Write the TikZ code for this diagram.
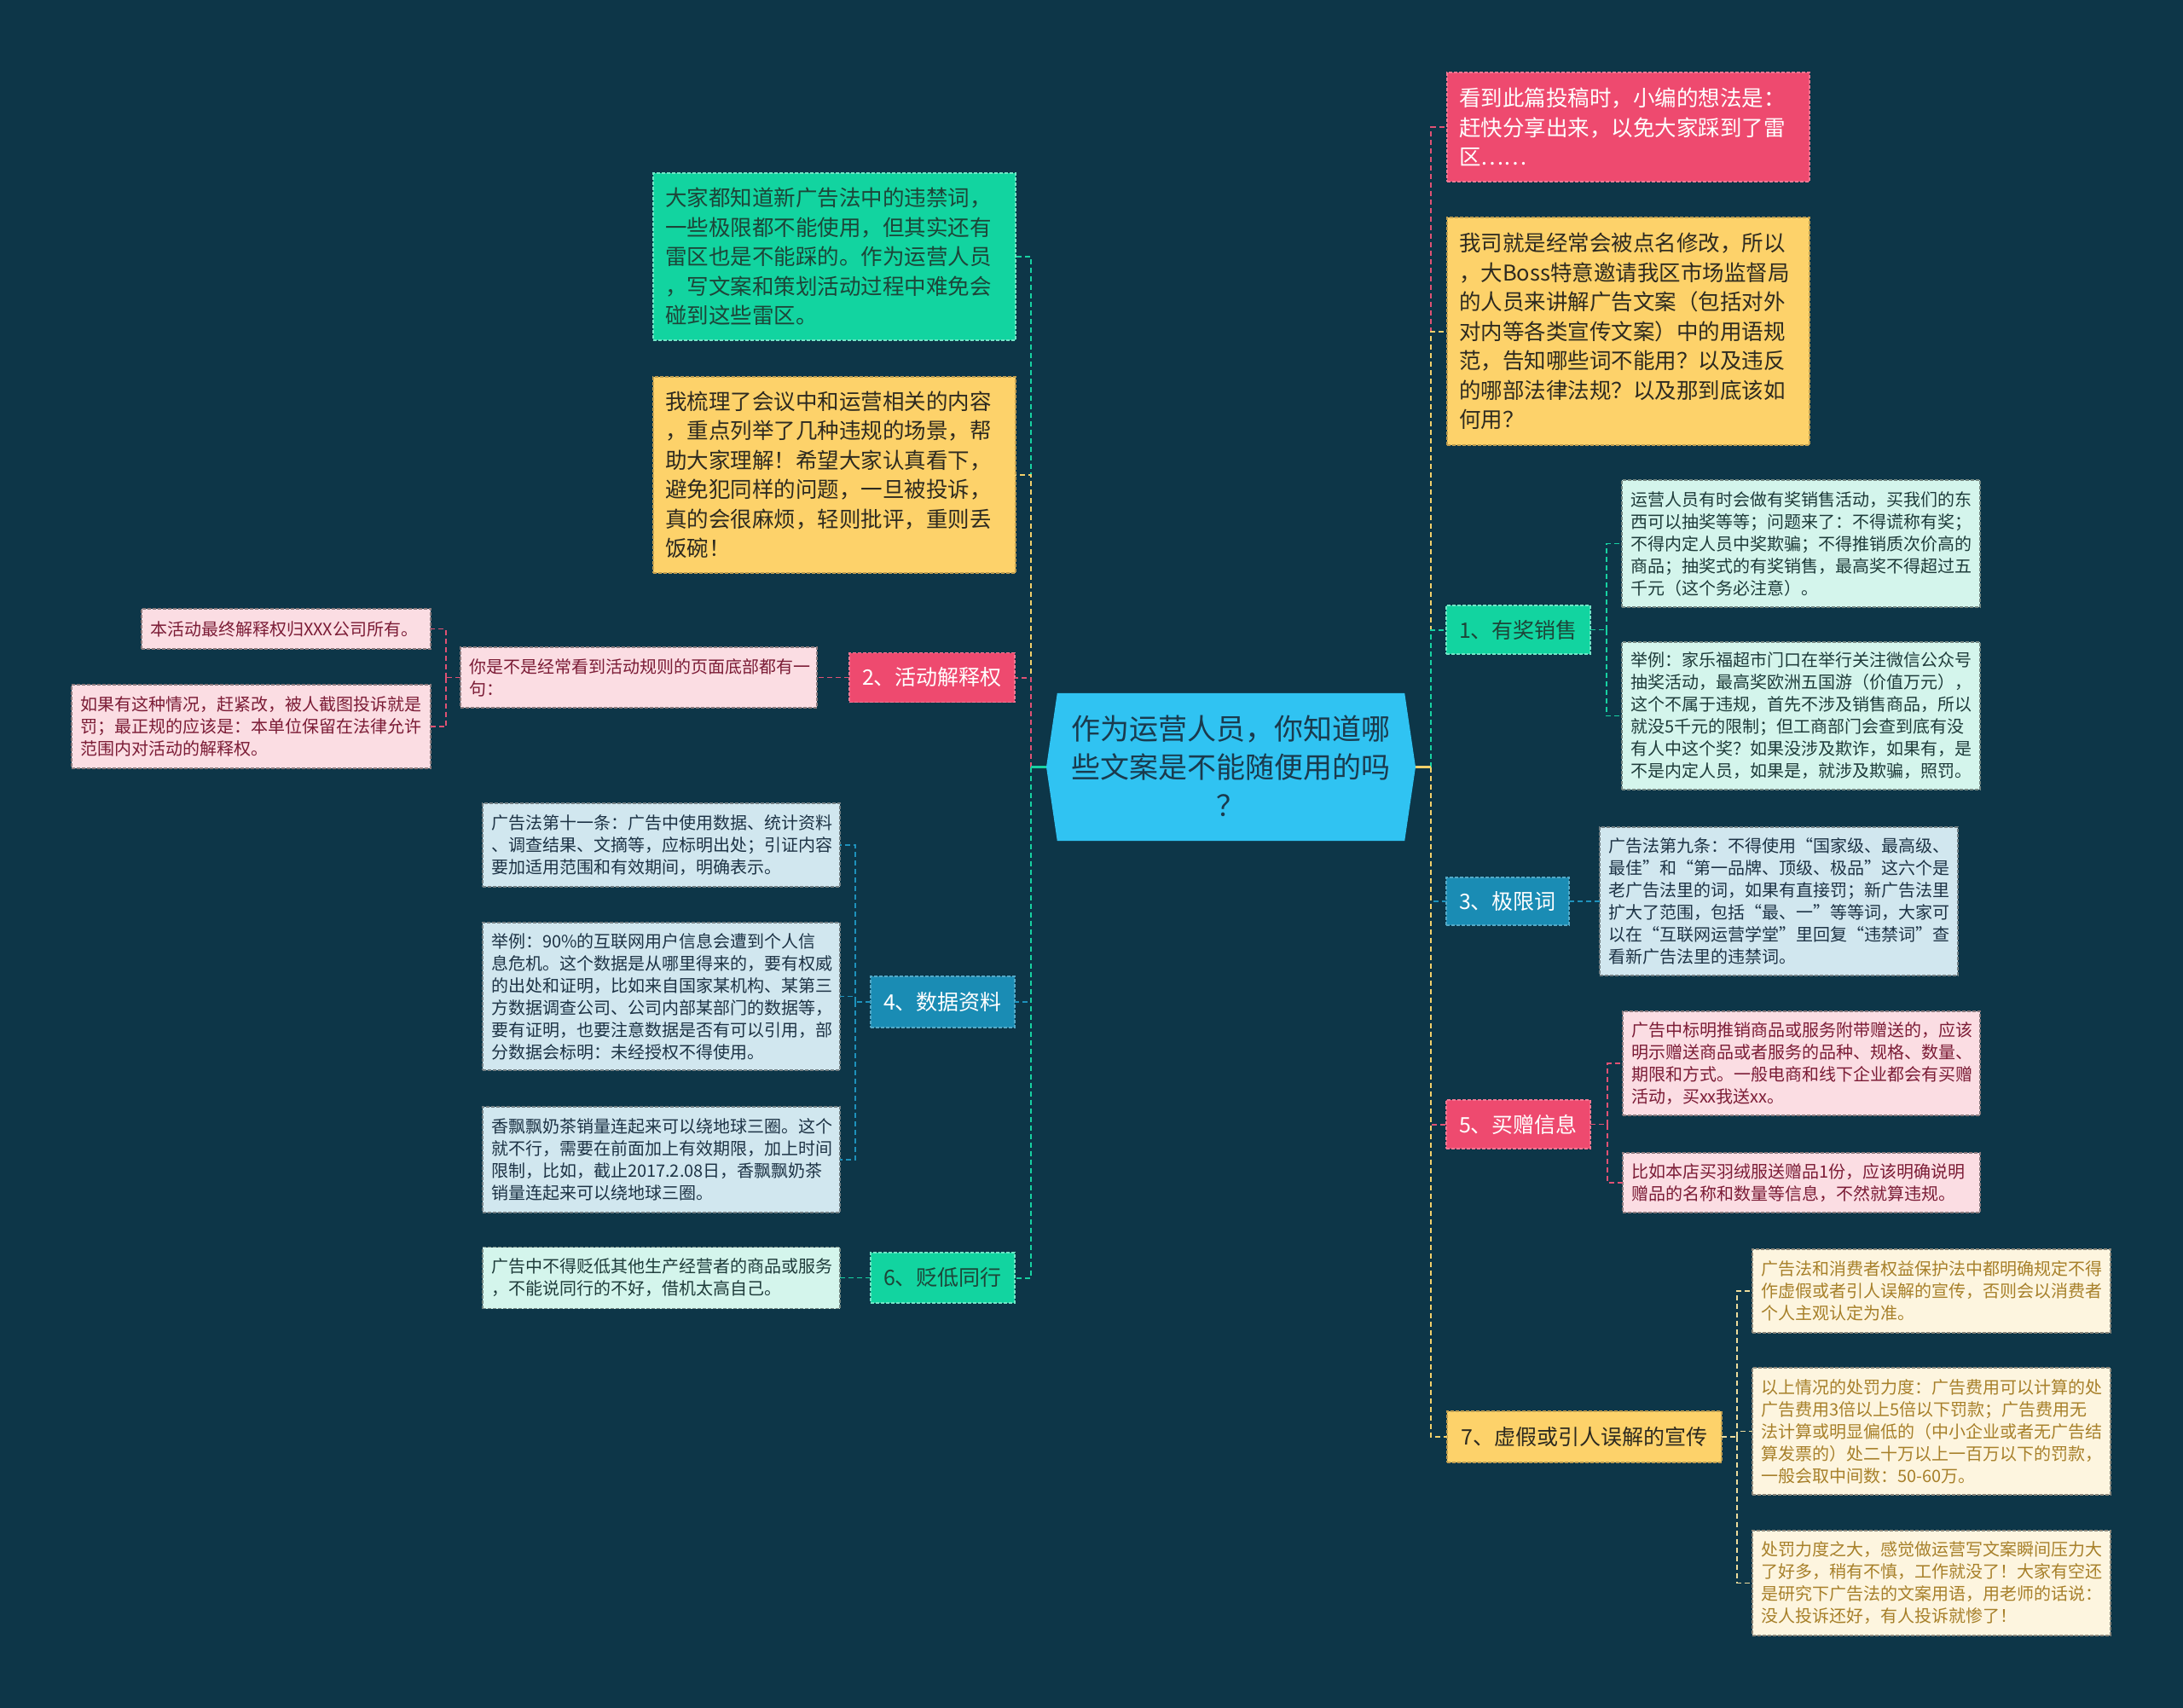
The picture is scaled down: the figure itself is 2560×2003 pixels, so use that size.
\documentclass[tikz,border=0pt]{standalone}
\usepackage{fontspec}
\setmainfont{Noto Sans CJK SC}
\usetikzlibrary{calc}
\definecolor{bg}{HTML}{0D3648}
\definecolor{cfill}{HTML}{30C3F2}
\definecolor{ctext}{HTML}{1A3A4D}
\definecolor{pF}{HTML}{EE4A6F}
\definecolor{yF}{HTML}{FDD26A}
\definecolor{gF}{HTML}{12D4A0}
\definecolor{bF}{HTML}{1A8CB4}
\definecolor{gL}{HTML}{D4F5EC}
\definecolor{bL}{HTML}{D1E7EF}
\definecolor{pL}{HTML}{FBDDE3}
\definecolor{yL}{HTML}{FDF5DF}
\definecolor{pC}{HTML}{E05274}
\definecolor{yC}{HTML}{F2D06B}
\definecolor{gC}{HTML}{17D2A2}
\definecolor{bC}{HTML}{1E92BC}
\definecolor{ycC}{HTML}{EDDC9C}
\definecolor{darkY}{HTML}{2D2A20}
\definecolor{darkG}{HTML}{1D4538}
\definecolor{txG}{HTML}{1E3B3A}
\definecolor{txB}{HTML}{1D3345}
\definecolor{txP}{HTML}{7B1C36}
\definecolor{txY}{HTML}{A7802A}
\tikzset{
  bx/.style={rectangle, dash pattern=on 4pt off 2pt, line width=1.2pt, inner xsep=10pt, inner ysep=0pt, align=left, outer sep=0pt},
  bigbx/.style={bx, inner xsep=14pt, text width=397pt, font=\fontsize{25.5}{34.5}\selectfont},
  smbx/.style={bx, font=\fontsize{20}{26}\selectfont},
  lbl/.style={rectangle, dash pattern=on 4pt off 2pt, line width=1.2pt, inner sep=0pt, align=center, outer sep=0pt, font=\fontsize{25}{30}\selectfont},
  pbig/.style={fill=pF, draw=pF!75!white, text=white},
  ybig/.style={fill=yF, draw=yF!75!black, text=darkY},
  gbig/.style={fill=gF, draw=gF!60!white, text=darkG},
  bbig/.style={fill=bF, draw=bF!75!white, text=white},
  gsm/.style={fill=gL, draw=gL!55!black, text=txG},
  bsm/.style={fill=bL, draw=bL!55!black, text=txB},
  psm/.style={fill=pL, draw=pL!55!black, text=txP},
  ysm/.style={fill=yL, draw=yL!55!black, text=txY},
  ln/.style={dash pattern=on 6pt off 4pt, line width=2pt},
  lnb/.style={dash pattern=on 6pt off 4pt, line width=1.6pt},
}
\begin{document}
\begin{tikzpicture}[x=1pt,y=-1pt]
\useasboundingbox (0,0) rectangle (2560,2003);
\fill[bg] (0,0) rectangle (2560,2003);

% ---------- centre ----------
\node[minimum width=407pt, minimum height=173pt, inner sep=0pt] (c) at (1443.5,899.5) {};
\coordinate (cl) at (1227,899.5);
\coordinate (cr) at (1660,899.5);
\fill[cfill] (c.north west) -- (c.north east) -- (cr) -- (c.south east) -- (c.south west) -- (cl) -- cycle;
\node[font=\fontsize{34}{45}\selectfont, text=ctext, align=center, inner sep=0pt] (ct) at (1443.5,898) {作为运营人员，你知道哪\\些文案是不能随便用的吗\\？};

% ---------- right side ----------
\node[bigbx, pbig, minimum height=128pt] (rp) at (1909.5,149) {看到此篇投稿时，小编的想法是：\\赶快分享出来，以免大家踩到了雷\\区……};
\node[bigbx, ybig, minimum height=267pt] (ry) at (1909.5,388.5) {我司就是经常会被点名修改，所以\\，大Boss特意邀请我区市场监督局\\的人员来讲解广告文案（包括对外\\对内等各类宣传文案）中的用语规\\范，告知哪些词不能用？以及违反\\的哪部法律法规？以及那到底该如\\何用？};

\node[lbl, fill=gF, draw=gF!60!white, text=darkG, minimum width=169pt, minimum height=57pt] (b1) at (1780.5,738.5) {1、有奖销售};
\node[smbx, gsm, text width=400pt, minimum height=149pt] (c1a) at (2112,637.5) {运营人员有时会做有奖销售活动，买我们的东\\西可以抽奖等等；问题来了：不得谎称有奖；\\不得内定人员中奖欺骗；不得推销质次价高的\\商品；抽奖式的有奖销售，最高奖不得超过五\\千元（这个务必注意）。};
\node[smbx, gsm, text width=400pt, minimum height=173pt] (c1b) at (2112,839.5) {举例：家乐福超市门口在举行关注微信公众号\\抽奖活动，最高奖欧洲五国游（价值万元），\\这个不属于违规，首先不涉及销售商品，所以\\就没5千元的限制；但工商部门会查到底有没\\有人中这个奖？如果没涉及欺诈，如果有，是\\不是内定人员，如果是，就涉及欺骗，照罚。};

\node[lbl, fill=bF, draw=bF!75!white, text=white, minimum width=144pt, minimum height=56pt] (b3) at (1768,1057) {3、极限词};
\node[smbx, bsm, text width=400pt, minimum height=174pt] (c3) at (2086,1057) {广告法第九条：不得使用“国家级、最高级、\\最佳”和“第一品牌、顶级、极品”这六个是\\老广告法里的词，如果有直接罚；新广告法里\\扩大了范围，包括“最、一”等等词，大家可\\以在“互联网运营学堂”里回复“违禁词”查\\看新广告法里的违禁词。};

\node[lbl, fill=pF, draw=pF!75!white, text=white, minimum width=169pt, minimum height=57pt] (b5) at (1780.5,1318.5) {5、买赠信息};
\node[smbx, psm, text width=399pt, minimum height=122pt] (c5a) at (2112.5,1247) {广告中标明推销商品或服务附带赠送的，应该\\明示赠送商品或者服务的品种、规格、数量、\\期限和方式。一般电商和线下企业都会有买赠\\活动，买xx我送xx。};
\node[smbx, psm, text width=399pt, minimum height=70pt] (c5b) at (2112.5,1387) {比如本店买羽绒服送赠品1份，应该明确说明\\赠品的名称和数量等信息，不然就算违规。};

\node[lbl, fill=yF, draw=yF!75!black, text=darkY, minimum width=322pt, minimum height=60pt] (b7) at (1858,1685) {7、虚假或引人误解的宣传};
\node[smbx, ysm, text width=400pt, minimum height=98pt] (c7a) at (2265,1514) {广告法和消费者权益保护法中都明确规定不得\\作虚假或者引人误解的宣传，否则会以消费者\\个人主观认定为准。};
\node[smbx, ysm, text width=400pt, minimum height=149pt] (c7b) at (2265,1678.5) {以上情况的处罚力度：广告费用可以计算的处\\广告费用3倍以上5倍以下罚款；广告费用无\\法计算或明显偏低的（中小企业或者无广告结\\算发票的）处二十万以上一百万以下的罚款，\\一般会取中间数：50-60万。};
\node[smbx, ysm, text width=400pt, minimum height=123pt] (c7c) at (2265,1856.5) {处罚力度之大，感觉做运营写文案瞬间压力大\\了好多，稍有不慎，工作就没了！大家有空还\\是研究下广告法的文案用语，用老师的话说：\\没人投诉还好，有人投诉就惨了！};

% ---------- left side ----------
\node[bigbx, gbig, minimum height=196pt] (la) at (978.5,301) {大家都知道新广告法中的违禁词，\\一些极限都不能使用，但其实还有\\雷区也是不能踩的。作为运营人员\\，写文案和策划活动过程中难免会\\碰到这些雷区。};
\node[bigbx, ybig, minimum height=230pt] (lb) at (978.5,557) {我梳理了会议中和运营相关的内容\\，重点列举了几种违规的场景，帮\\助大家理解！希望大家认真看下，\\避免犯同样的问题，一旦被投诉，\\真的会很麻烦，轻则批评，重则丢\\饭碗！};

\node[lbl, fill=pF, draw=pF!75!white, text=white, minimum width=194pt, minimum height=58pt] (b2) at (1093,794.5) {2、活动解释权};
\node[smbx, psm, text width=398pt, minimum height=71pt] (c2) at (749,794.5) {你是不是经常看到活动规则的页面底部都有一\\句：};
\node[smbx, psm, text width=319pt, minimum height=47pt] (c2a) at (335.5,737.5) {本活动最终解释权归XXX公司所有。};
\node[smbx, psm, text width=401pt, minimum height=98pt] (c2b) at (294.5,852) {如果有这种情况，赶紧改，被人截图投诉就是\\罚；最正规的应该是：本单位保留在法律允许\\范围内对活动的解释权。};

\node[lbl, fill=bF, draw=bF!75!white, text=white, minimum width=169pt, minimum height=60pt] (b4) at (1105.5,1175) {4、数据资料};
\node[smbx, bsm, text width=399pt, minimum height=98pt] (c4a) at (775.5,991) {广告法第十一条：广告中使用数据、统计资料\\、调查结果、文摘等，应标明出处；引证内容\\要加适用范围和有效期间，明确表示。};
\node[smbx, bsm, text width=399pt, minimum height=173pt] (c4b) at (775.5,1168.5) {举例：90\%的互联网用户信息会遭到个人信\\息危机。这个数据是从哪里得来的，要有权威\\的出处和证明，比如来自国家某机构、某第三\\方数据调查公司、公司内部某部门的数据等，\\要有证明，也要注意数据是否有可以引用，部\\分数据会标明：未经授权不得使用。};
\node[smbx, bsm, text width=399pt, minimum height=124pt] (c4c) at (775.5,1360) {香飘飘奶茶销量连起来可以绕地球三圈。这个\\就不行，需要在前面加上有效期限，加上时间\\限制，比如，截止2017.2.08日，香飘飘奶茶\\销量连起来可以绕地球三圈。};

\node[lbl, fill=gF, draw=gF!60!white, text=darkG, minimum width=169pt, minimum height=59pt] (b6) at (1105.5,1498.5) {6、贬低同行};
\node[smbx, gsm, text width=399pt, minimum height=72pt] (c6) at (775.5,1498.5) {广告中不得贬低其他生产经营者的商品或服务\\，不能说同行的不好，借机太高自己。};

% ---------- trunks ----------
\coordinate (L) at (1209,899.5);
\coordinate (R) at (1678,899.5);
\draw[ln, gC] (L) |- (la.east);
\draw[ln, yC] (L) |- (lb.east);
\draw[ln, pC] (L) |- (b2.east);
\draw[ln, bC] (L) |- (b4.east);
\draw[ln, gC] (L) |- (b6.east);
\draw[line width=3pt, gC] (cl) -- (L);

\draw[ln, pC] (R) |- (rp.west);
\draw[ln, yC] (R) |- (ry.west);
\draw[ln, gC] (R) |- (b1.west);
\draw[ln, bC] (R) |- (b3.west);
\draw[ln, pC] (R) |- (b5.west);
\draw[ln, yC] (R) |- (b7.west);
\draw[line width=3pt, yC] (cr) -- (R);

% ---------- sub-branches ----------
\coordinate (k1) at (1884,738.5);
\draw[lnb, gC] (b1.east) -- (k1);
\draw[lnb, gC] (k1) |- (c1a.west);
\draw[lnb, gC] (k1) |- (c1b.west);

\draw[lnb, bC] (b3.east) -- (c3.west);

\coordinate (k5) at (1885,1318.5);
\draw[lnb, pC] (b5.east) -- (k5);
\draw[lnb, pC] (k5) |- (c5a.west);
\draw[lnb, pC] (k5) |- (c5b.west);

\coordinate (k7) at (2037,1685);
\draw[lnb, ycC] (b7.east) -- (k7);
\draw[lnb, ycC] (k7) |- (c7a.west);
\draw[lnb, ycC] (k7) |- (c7b.west);
\draw[lnb, ycC] (k7) |- (c7c.west);

\draw[lnb, pC] (b2.west) -- (c2.east);
\coordinate (k2) at (523,794.5);
\draw[lnb, pC] (c2.west) -- (k2);
\draw[lnb, pC] (k2) |- (c2a.east);
\draw[lnb, pC] (k2) |- (c2b.east);

\coordinate (k4) at (1003,1175);
\draw[lnb, bC] (b4.west) -- (k4);
\draw[lnb, bC] (k4) |- (c4a.east);
\draw[lnb, bC] (k4) |- (c4b.east);
\draw[lnb, bC] (k4) |- (c4c.east);

\draw[lnb, gC] (b6.west) -- (c6.east);
\end{tikzpicture}
\end{document}
